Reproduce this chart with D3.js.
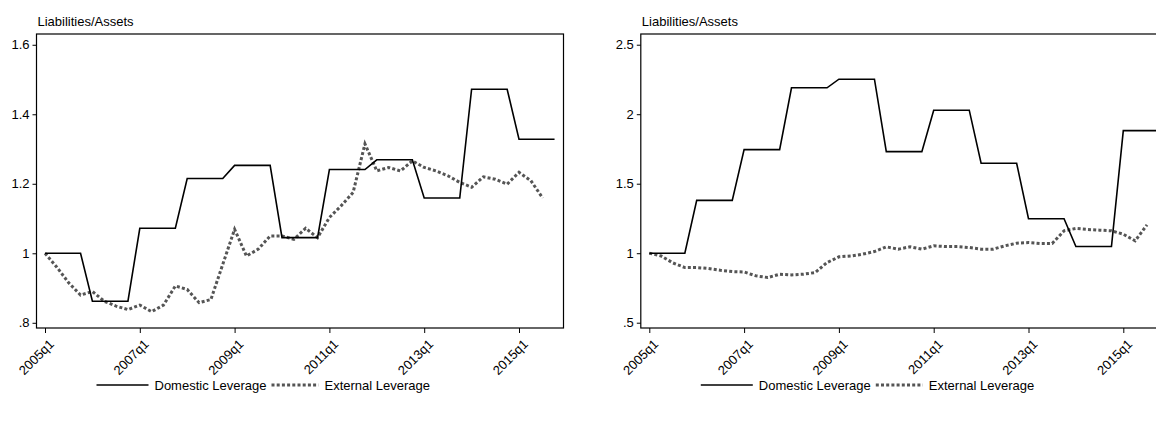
<!DOCTYPE html>
<html><head><meta charset="utf-8">
<script src="https://cdn.jsdelivr.net/npm/d3@7"></script>
<style>body{margin:0;background:#fff}svg{font-family:"Liberation Sans",Arial,sans-serif}</style>
</head><body><svg id="c" width="1156" height="422"></svg>
<script>
const quarters = d3.range(44).map(i => (2005 + Math.floor(i/4)) + "q" + (i%4+1));
const tickLabels = ["2005q1","2007q1","2009q1","2011q1","2013q1","2015q1"];
const domesticLeft = [1.0,0.862,1.072,1.215,1.253,1.045,1.241,1.269,1.159,1.472,1.328]; // yearly, repeated by quarter
const externalLeft = [1.0,.96,.915,.88,.89,.862,.848,.838,.851,.832,.851,.906,.896,.858,.867,.968,1.069,.992,1.012,1.05,1.05,1.04,1.072,1.045,1.103,1.137,1.175,1.315,1.237,1.247,1.237,1.266,1.247,1.237,1.223,1.204,1.19,1.22,1.213,1.199,1.233,1.209,1.159];
const domesticRight = [1.0,1.38,1.745,2.19,2.252,1.731,2.029,1.647,1.248,1.048,1.882];
const externalRight = [1.0,.98,.93,.897,.897,.89,.877,.868,.865,.837,.825,.849,.844,.849,.861,.933,.974,.98,.993,1.012,1.046,1.029,1.046,1.029,1.053,1.048,1.048,1.041,1.029,1.029,1.053,1.072,1.077,1.07,1.07,1.161,1.178,1.171,1.166,1.161,1.137,1.089,1.204];
const yTicksLeft = [0.8,1,1.2,1.4,1.6];
const yTicksRight = [0.5,1,1.5,2,2.5];
const fmt = v => { let s = String(v); return s.startsWith("0.") ? s.slice(1) : s; };

const svg = d3.select("#c");
function panel(x0, yDom, yTicks, dom, ext) {
  const left = x0, top = 34, w = 527, h = 294;
  const g = svg.append("g");
  const x = d3.scaleLinear().domain([0,43]).range([left+8.5, left+8.5+43*11.85]);
  const y = d3.scaleLinear().domain(yDom).range([top+h, top]);
  g.append("rect").attr("x",left).attr("y",top).attr("width",w).attr("height",h)
    .attr("fill","none").attr("stroke","#000").attr("stroke-width",1.2);
  const ya = g.append("g").attr("transform",`translate(${left},0)`)
    .call(d3.axisLeft(y).tickValues(yTicks).tickFormat(fmt).tickSize(4));
  ya.select(".domain").remove();
  ya.selectAll("text").attr("font-size",13).attr("fill","#000").attr("font-family","Liberation Sans, Arial");
  const xa = g.append("g").attr("transform",`translate(0,${top+h})`)
    .call(d3.axisBottom(x).tickValues(tickLabels.map(t=>quarters.indexOf(t))).tickFormat(i=>quarters[i]).tickSize(5));
  xa.select(".domain").remove();
  xa.selectAll("text").attr("font-size",13).attr("fill","#000").attr("font-family","Liberation Sans, Arial")
    .attr("text-anchor","end").attr("transform","translate(0,4) rotate(-45)").attr("dx","-0.2em").attr("dy","0.6em");
  g.append("text").attr("x",left+1).attr("y",top-8).attr("font-size",13).text("Liabilities/Assets");
  const domQ = d3.range(44).map(i => dom[Math.floor(i/4)]);
  const line = d3.line().x((d,i)=>x(i)).y(d=>y(d));
  g.append("path").datum(ext).attr("d",line).attr("fill","none").attr("stroke","#555").attr("stroke-width",3).attr("stroke-dasharray","3,2.2");
  g.append("path").datum(domQ).attr("d",line).attr("fill","none").attr("stroke","#000").attr("stroke-width",1.6);
  // legend
  const ly = 385, lx = left + 60;
  g.append("line").attr("x1",lx).attr("x2",lx+52).attr("y1",ly).attr("y2",ly).attr("stroke","#000").attr("stroke-width",1.6);
  g.append("text").attr("x",lx+58).attr("y",ly+4.5).attr("font-size",13).text("Domestic Leverage");
  g.append("line").attr("x1",lx+175).attr("x2",lx+222).attr("y1",ly).attr("y2",ly).attr("stroke","#555").attr("stroke-width",3).attr("stroke-dasharray","3,2.2");
  g.append("text").attr("x",lx+228).attr("y",ly+4.5).attr("font-size",13).text("External Leverage");
}
panel(36.5, [0.785,1.631], yTicksLeft, domesticLeft, externalLeft);
panel(640.8, [0.462,2.577], yTicksRight, domesticRight, externalRight);
</script></body></html>
